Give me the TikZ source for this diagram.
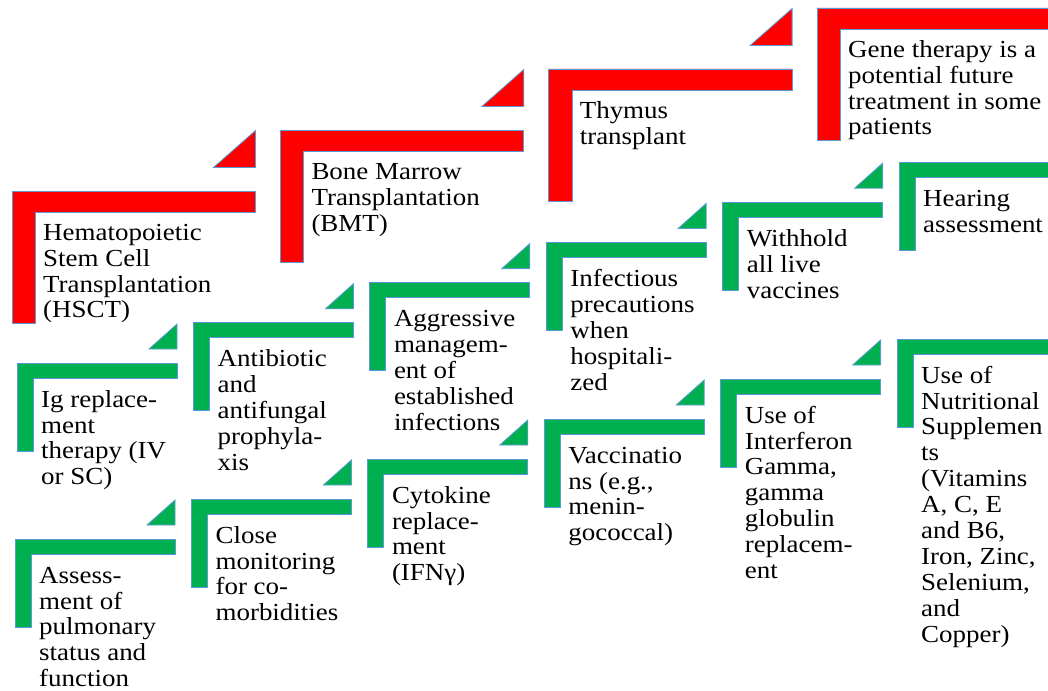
\documentclass[tikz,border=0pt]{standalone}
\usepackage{fontspec}
\setmainfont{Liberation Serif}[FakeStretch=1.1]
\definecolor{stepred}{HTML}{FF0000}
\definecolor{stepgreen}{HTML}{00B050}
\definecolor{edgeblue}{HTML}{5B9BD5}
\tikzset{
  stepedge/.style={draw=edgeblue, line width=0.8pt},
  steplabel/.style={anchor=north west, inner sep=0pt, align=left,
    font=\fontsize{24.5}{25.9}\selectfont},
  pics/redstep/.style={code={
    \filldraw[stepedge, fill=stepred] (0,0) -- (243.5,0) -- (243.5,21) -- (23.5,21) -- (23.5,132) -- (0,132) -- cycle;
    \node[steplabel] (-text) at (31,30.9) {\strut #1};
  }},
  pics/redtip/.style={code={
    \filldraw[stepedge, fill=stepred] (243.5,-23.5) -- (243.5,-60.5) -- (201.5,-23.5) -- cycle;
  }},
  pics/greenstep/.style={code={
    \filldraw[stepedge, fill=stepgreen] (0,0) -- (160,0) -- (160,15) -- (16,15) -- (16,88) -- (0,88) -- cycle;
    \node[steplabel] (-text) at (24,25.8) {\strut #1};
  }},
  pics/greentip/.style={code={
    \filldraw[stepedge, fill=stepgreen] (160,-14) -- (160,-39) -- (132,-14) -- cycle;
  }}
}
\begin{document}
\begin{tikzpicture}[x=1pt,y=-1pt]
\useasboundingbox (0,0) rectangle (1048,690);
\clip (0,0) rectangle (1048,690);

% red steps
\pic (hsct) at (12,191) {redstep={Hematopoietic\\Stem Cell\\Transplantation\\(HSCT)}};
\pic at (12,191) {redtip};
\pic (bmt) at (280.3,130) {redstep={Bone Marrow\\Transplantation\\(BMT)}};
\pic at (280.3,130) {redtip};
\pic (thymus) at (548.6,69) {redstep={Thymus\\transplant}};
\pic at (548.6,69) {redtip};
\pic (gene) at (817,8) {redstep={Gene therapy is a\\potential future\\treatment in some\\patients}};

% green steps, upper row
\pic (ig) at (17,363) {greenstep={Ig replace-\\ment\\therapy (IV\\or SC)}};
\pic at (17,363) {greentip};
\pic (antibiotic) at (193.4,322.8) {greenstep={Antibiotic\\and\\antifungal\\prophyla-\\xis}};
\pic at (193.4,322.8) {greentip};
\pic (aggressive) at (369.8,282.6) {greenstep={Aggressive\\managem-\\ent of\\established\\infections}};
\pic at (369.8,282.6) {greentip};
\pic (infectious) at (546.2,242.4) {greenstep={Infectious\\precautions\\when\\hospitali-\\zed}};
\pic at (546.2,242.4) {greentip};
\pic (withhold) at (722.6,202.2) {greenstep={Withhold\\all live\\vaccines}};
\pic at (722.6,202.2) {greentip};
\pic (hearing) at (899,162) {greenstep={Hearing\\assessment}};

% green steps, lower row
\pic (pulmonary) at (15,539) {greenstep={Assess-\\ment of\\pulmonary\\status and\\function}};
\pic at (15,539) {greentip};
\pic (monitoring) at (191.4,499) {greenstep={Close\\monitoring\\for co-\\morbidities}};
\pic at (191.4,499) {greentip};
\pic (cytokine) at (367.8,459) {greenstep={Cytokine\\replace-\\ment\\(IFNγ)}};
\pic at (367.8,459) {greentip};
\pic (vaccination) at (544.2,419) {greenstep={Vaccinatio\\ns (e.g.,\\menin-\\gococcal)}};
\pic at (544.2,419) {greentip};
\pic (interferon) at (720.6,379) {greenstep={Use of\\Interferon\\Gamma,\\gamma\\globulin\\replacem-\\ent}};
\pic at (720.6,379) {greentip};
\pic (nutrition) at (897,339) {greenstep={Use of\\Nutritional\\Supplemen\\ts\\(Vitamins\\A, C, E\\and B6,\\Iron, Zinc,\\Selenium,\\and\\Copper)}};

\end{tikzpicture}
\end{document}
